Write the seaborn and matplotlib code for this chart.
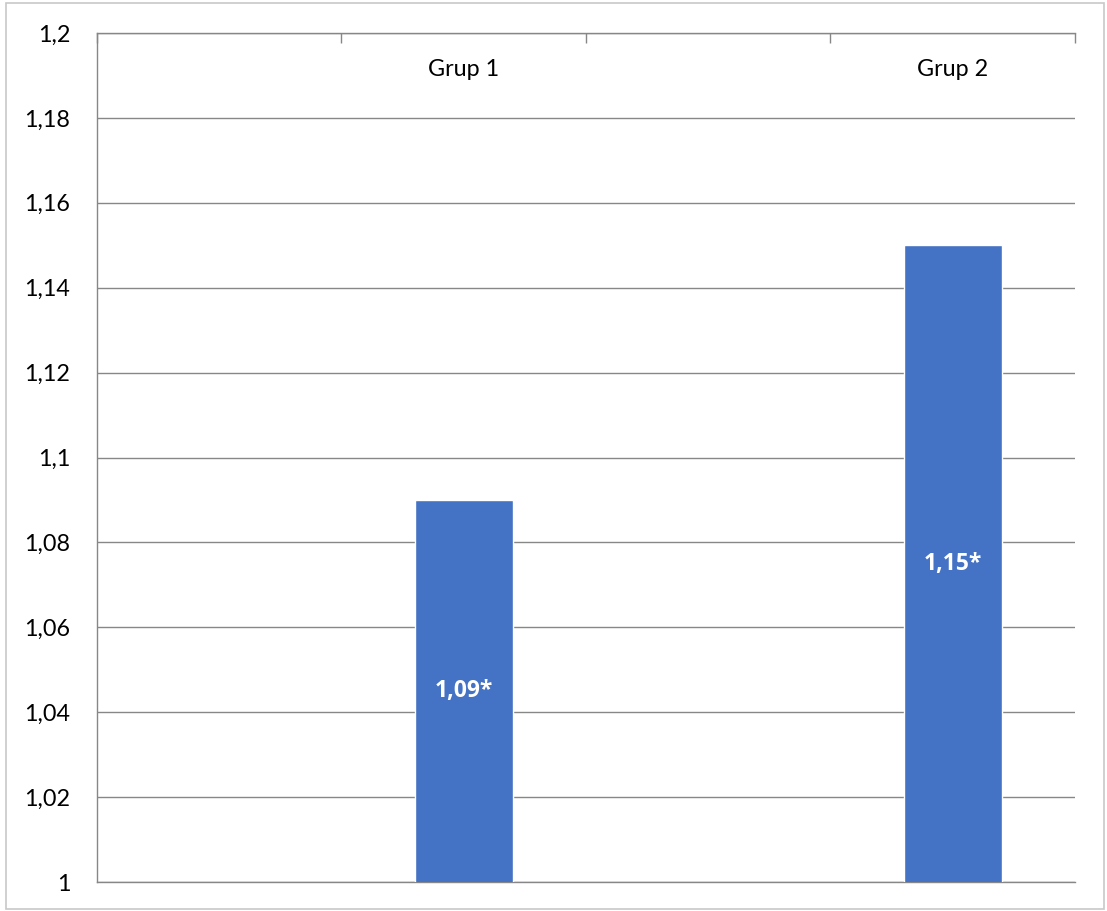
import numpy as np
import matplotlib
matplotlib.use("Agg")
import matplotlib.pyplot as plt
from matplotlib.patches import Rectangle
from matplotlib.ticker import FixedLocator, FuncFormatter
import seaborn as sns

# Data
slots = [" ", "Grup 1", "  ", "Grup 2"]          # category slots along the top axis
groups = ["Grup 1", "Grup 2"]
values = [1.09, 1.15]
value_labels = ["1,09*", "1,15*"]
y_ticks = [1.00, 1.02, 1.04, 1.06, 1.08, 1.10, 1.12, 1.14, 1.16, 1.18, 1.20]

BAR_COLOR = "#4472C4"
AXIS_GRAY = "#878787"

sns.set_style("white")
plt.rcParams["font.family"] = ["Lato", "DejaVu Sans"]

fig = plt.figure(figsize=(11.07, 9.11), dpi=100)
ax = fig.add_axes([0.0876, 0.0318, 0.9711 - 0.0876, 0.9638 - 0.0318])

sns.barplot(x=groups, y=values, order=slots, color=BAR_COLOR, saturation=1,
            width=0.4, ax=ax, zorder=3)

ax.set_ylim(1.0, 1.2)
ax.set_xlim(-0.5, len(slots) - 0.5)
ax.set_xlabel("")
ax.set_ylabel("")

# Y axis: comma decimals, trailing zeros dropped
ax.yaxis.set_major_locator(FixedLocator(y_ticks))
ax.yaxis.set_major_formatter(
    FuncFormatter(lambda v, _: f"{v:.2f}".rstrip("0").rstrip(".").replace(".", ",")))
ax.tick_params(axis="y", direction="out", length=7.2, width=1.0, color=AXIS_GRAY,
               labelsize=16.8, labelcolor="black", pad=12)
ax.yaxis.grid(True, color=AXIS_GRAY, linewidth=1.0, zorder=1)
ax.set_axisbelow(True)

# Category axis along the top, labels sitting inside the plot area
ax.xaxis.tick_top()
ax.set_xticks(range(len(slots)))
ax.set_xticklabels(["" if s.strip() == "" else s for s in slots])
ax.set_xticks(np.arange(-0.5, len(slots), 1.0), minor=True)
ax.tick_params(axis="x", which="major", length=0, labelsize=16.8,
               labelcolor="black", pad=-34, top=True, labeltop=True,
               bottom=False, labelbottom=False)
ax.tick_params(axis="x", which="minor", direction="in", length=7.2, width=1.0,
               color=AXIS_GRAY, top=True, bottom=False)
ax.xaxis.grid(False)

for side in ["left", "top", "bottom"]:
    ax.spines[side].set_visible(True)
    ax.spines[side].set_color(AXIS_GRAY)
    ax.spines[side].set_linewidth(1.0)
ax.spines["right"].set_visible(False)

# Value labels centred in the visible part of each bar
for patch, lab in zip(ax.patches, value_labels):
    h = patch.get_height()
    if np.isnan(h):
        continue
    cx = patch.get_x() + patch.get_width() / 2
    ax.text(cx, (ax.get_ylim()[0] + h) / 2, lab, ha="center", va="center",
            color="white", fontsize=16.5, fontweight="bold",
            family=["Open Sans", "DejaVu Sans"], zorder=5)

# Chart border
fig.patches.append(Rectangle((6 / 1107, 1 - 909 / 911), 1098 / 1107, 906 / 911,
                             transform=fig.transFigure, fill=False,
                             edgecolor="#c8c8c8", linewidth=1.2))

fig.savefig("out.png", dpi=100)
